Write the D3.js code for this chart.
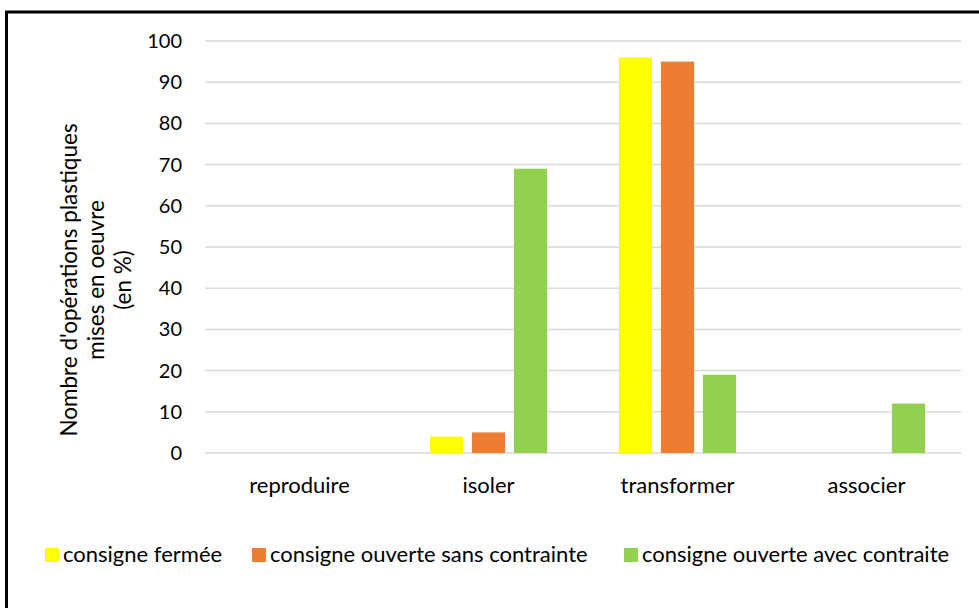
<!DOCTYPE html>
<html>
<head>
<meta charset="utf-8">
<script src="https://cdn.jsdelivr.net/npm/d3@7"></script>
<style>
  body { margin: 0; background: #fff; }
  text { font-family: Lato, "Open Sans", sans-serif; fill: #000; }
</style>
</head>
<body>
<script>
// data
var categories = ["reproduire", "isoler", "transformer", "associer"];
var seriesNames = ["consigne fermée", "consigne ouverte sans contrainte", "consigne ouverte avec contraite"];
var fermee = [0, 4, 96, 0];
var ouverteSans = [0, 5, 95, 0];
var ouverteAvec = [0, 69, 19, 12];
var yTicks = [0, 10, 20, 30, 40, 50, 60, 70, 80, 90, 100];
var colors = ["#FFFF00", "#ED7D31", "#92D050"];

var W = 979, H = 608;
var margin = {top: 41, right: 18, bottom: 155, left: 205};
var width = W - margin.left - margin.right,
    height = H - margin.top - margin.bottom;

var svg = d3.select("body").append("svg")
  .attr("width", W)
  .attr("height", H);

// frame (runs off the right/bottom edges like the original)
svg.append("rect")
  .attr("x", 6.5).attr("y", 12)
  .attr("width", 1000).attr("height", 700)
  .attr("fill", "none")
  .attr("stroke", "#000")
  .attr("stroke-width", 3);

var g = svg.append("g")
  .attr("transform", "translate(" + margin.left + "," + margin.top + ")");

var x0 = d3.scaleBand()
  .domain(categories)
  .range([0, width])
  .paddingInner(0.38)
  .paddingOuter(0.19);

var x1 = d3.scaleBand()
  .domain(d3.range(seriesNames.length))
  .range([0, x0.bandwidth()])
  .paddingInner(0.21);

var y = d3.scaleLinear()
  .domain([0, 100])
  .range([height, 0]);

// gridlines
g.append("g")
  .selectAll("line")
  .data(yTicks)
  .enter().append("line")
  .attr("x1", 0).attr("x2", width)
  .attr("y1", function(d) { return y(d); })
  .attr("y2", function(d) { return y(d); })
  .attr("stroke", "#D9D9D9")
  .attr("stroke-width", 1.5);

// y axis labels
var yAxis = g.append("g")
  .call(d3.axisLeft(y).tickValues(yTicks).tickSize(0).tickPadding(23));
yAxis.select(".domain").remove();
yAxis.selectAll("text")
  .style("font-size", "20px")
  .style("font-family", "Lato, 'Open Sans', sans-serif")
  .attr("fill", "#000");

// x axis labels
var xAxis = g.append("g")
  .attr("transform", "translate(0," + height + ")")
  .call(d3.axisBottom(x0).tickSize(0).tickPadding(24));
xAxis.select(".domain").remove();
xAxis.selectAll("text")
  .style("font-size", "22px")
  .style("font-family", "Lato, 'Open Sans', sans-serif")
  .attr("fill", "#000");

// bars
var rows = categories.map(function(c, i) {
  return {cat: c, vals: [fermee[i], ouverteSans[i], ouverteAvec[i]]};
});

var groups = g.selectAll(".grp")
  .data(rows)
  .enter().append("g")
  .attr("class", "grp")
  .attr("transform", function(d) { return "translate(" + x0(d.cat) + ",0)"; });

groups.selectAll("rect")
  .data(function(d) { return d.vals.map(function(v, j) { return {s: j, v: v}; }); })
  .enter().append("rect")
  .filter(function(d) { return d.v > 0; })
  .attr("x", function(d) { return x1(d.s); })
  .attr("y", function(d) { return y(d.v); })
  .attr("width", x1.bandwidth())
  .attr("height", function(d) { return height - y(d.v); })
  .attr("fill", function(d) { return colors[d.s]; });

// y axis title
var title = svg.append("text")
  .attr("transform", "translate(96,280) rotate(-90)")
  .attr("text-anchor", "middle")
  .style("font-size", "22.5px");
["Nombre d'opérations plastiques", "mises en oeuvre", "(en %)"].forEach(function(t, i) {
  title.append("tspan")
    .attr("x", 0)
    .attr("y", (i - 1) * 27 + 8)
    .text(t);
});

// legend
var legendX = [45, 252, 624];
var legend = svg.selectAll(".leg")
  .data(seriesNames)
  .enter().append("g")
  .attr("class", "leg")
  .attr("transform", function(d, i) { return "translate(" + legendX[i] + ",548)"; });
legend.append("rect")
  .attr("width", 14).attr("height", 14)
  .attr("fill", function(d, i) { return colors[i]; });
legend.append("text")
  .attr("x", 18)
  .attr("y", 14)
  .style("font-size", "22px")
  .text(function(d) { return d; });
</script>
</body>
</html>
